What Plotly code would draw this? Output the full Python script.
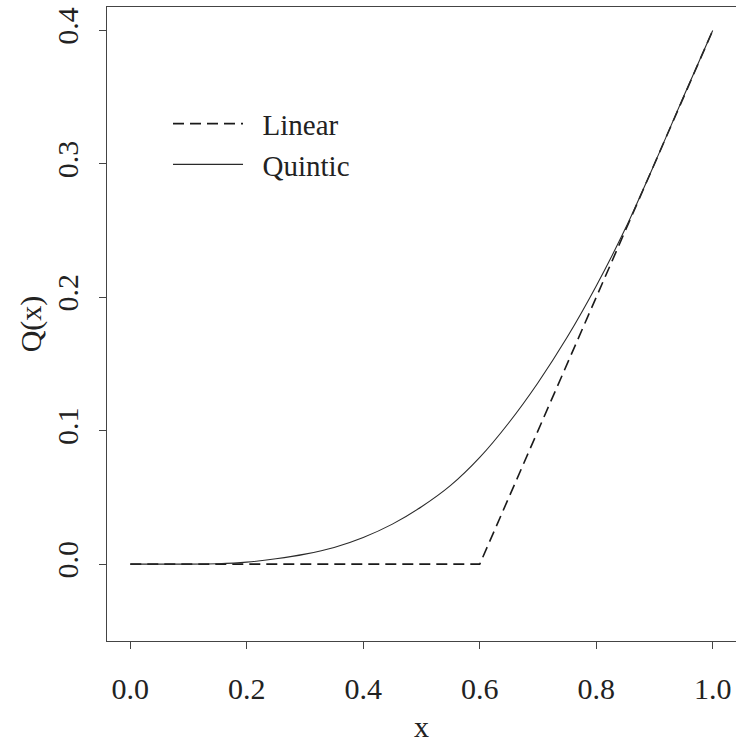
import plotly.graph_objects as go

# Data
x_quintic = [0.00, 0.05, 0.10, 0.15, 0.20, 0.25, 0.30, 0.35, 0.40, 0.45, 0.50,
             0.55, 0.60, 0.65, 0.70, 0.75, 0.80, 0.85, 0.90, 0.95, 1.00]
q_quintic = [0.0, 0.0, 0.0, 0.0003, 0.0015, 0.004, 0.0075, 0.0125, 0.020, 0.030, 0.043,
             0.059, 0.080, 0.106, 0.136, 0.170, 0.2085, 0.2515, 0.300, 0.3505, 0.400]
x_linear = [0.0, 0.6, 1.0]
q_linear = [0.0, 0.0, 0.4]

x_ticks = [0.0, 0.2, 0.4, 0.6, 0.8, 1.0]
x_ticklabels = ["0.0", "0.2", "0.4", "0.6", "0.8", "1.0"]
y_ticks = [0.0, 0.1, 0.2, 0.3, 0.4]
y_ticklabels = ["0.0", "0.1", "0.2", "0.3", "0.4"]

FONT = "Liberation Serif"
INK = "#222222"
FS = 30

fig = go.Figure()
fig.add_trace(go.Scatter(x=x_linear, y=q_linear, mode="lines", name="\u00a0\u00a0Linear",
                         line=dict(color="#1a1a1a", width=1.6, dash="11px,6px")))
fig.add_trace(go.Scatter(x=x_quintic, y=q_quintic, mode="lines", name="\u00a0\u00a0Quintic",
                         line=dict(color="#2a2a2a", width=1.1, shape="spline", smoothing=0.8)))

fig.update_layout(
    width=736, height=743,
    margin=dict(l=107, r=0, t=7, b=102, autoexpand=False),
    paper_bgcolor="white", plot_bgcolor="white",
    font=dict(family=FONT, size=FS, color=INK),
    showlegend=True,
    legend=dict(x=0.097, y=0.856, xanchor="left", yanchor="top",
                bgcolor="rgba(0,0,0,0)", borderwidth=0,
                font=dict(family=FONT, size=29, color=INK),
                itemwidth=70, tracegroupgap=0),
)
fig.update_xaxes(range=[-0.04, 1.04], tickvals=x_ticks, ticktext=x_ticklabels,
                 automargin=False,
                 showgrid=False, zeroline=False, showline=True, mirror=True,
                 linecolor="#444444", linewidth=1.3, ticks="outside", ticklen=7,
                 tickcolor="#444444", tickwidth=1.3, ticklabelstandoff=14,
                 tickfont=dict(family=FONT, size=FS, color=INK),
                 title=dict(text="x", font=dict(family=FONT, size=FS, color=INK), standoff=16))
fig.update_yaxes(range=[-0.0576, 0.4176], tickvals=y_ticks, ticktext=y_ticklabels,
                 automargin=False,
                 showgrid=False, zeroline=False, showline=True, mirror=True,
                 linecolor="#444444", linewidth=1.3, ticks="outside", ticklen=7,
                 tickcolor="#444444", tickwidth=1.3, tickangle=-90, ticklabelstandoff=9,
                 tickfont=dict(family=FONT, size=FS, color=INK),
                 title=dict(text="Q(x)", font=dict(family=FONT, size=FS, color=INK), standoff=0))

fig.write_html("out.html", config={"displayModeBar": False},
               post_script="document.body.style.margin='0';document.body.style.overflow='hidden';")
